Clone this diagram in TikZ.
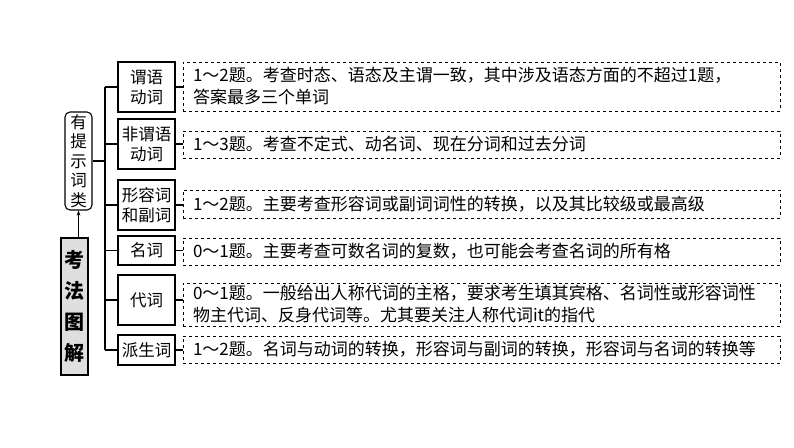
\documentclass[tikz,border=0pt]{standalone}
\usepackage{fontspec}
\setmainfont{Noto Sans CJK SC}
\usetikzlibrary{arrows.meta}
\begin{document}
\begin{tikzpicture}[x=1pt,y=-1pt,
  cat/.style={draw,line width=1.1pt,minimum width=57pt,align=center,font=\fontsize{16.5}{20}\selectfont,inner sep=1pt},
  desc/.style={draw,dashed,line width=0.9pt,minimum width=597pt,align=left,text width=577pt,font=\fontsize{17}{22}\selectfont,inner xsep=10pt,inner ysep=2pt},
  ln/.style={line width=1.1pt}]
\useasboundingbox (0,0) rectangle (794,447);
\node[draw,fill=gray!25,line width=1.1pt,minimum width=27pt,minimum height=137pt,inner sep=0pt,align=center,font=\fontsize{20}{31}\selectfont\bfseries] (kf) at (74.5,306.5) {考\\法\\图\\解};
\node[draw,rounded corners=5pt,line width=1.1pt,minimum width=27pt,minimum height=98pt,inner sep=0pt,align=center,font=\fontsize{16.5}{19.5}\selectfont] (yt) at (78.5,161) {有\\提\\示\\词\\类};
\draw[ln,-{Stealth[length=5pt]}] (kf.north -| yt.south) -- (yt.south);
\coordinate (t0) at (105,87);
\coordinate (t1) at (105,350);
\draw[ln] (t0) -- (t1);
\draw[ln] (yt.east) -- (yt.east -| t0);
\node[cat,minimum height=50pt] (c1) at (146.5,87) {谓语\\动词};
\node[cat,minimum height=50pt] (c2) at (146.5,144) {非谓语\\动词};
\node[cat,minimum height=50pt] (c3) at (146.5,205) {形容词\\和副词};
\node[cat,minimum height=29pt] (c4) at (146.5,250.5) {名词};
\node[cat,minimum height=50pt] (c5) at (146.5,300) {代词};
\node[cat,minimum height=30pt] (c6) at (146.5,350) {派生词};
\node[desc,minimum height=49pt] (d1) at (481.5,86.5) {1～2题。考查时态、语态及主谓一致，其中涉及语态方面的不超过1题，\\答案最多三个单词};
\node[desc,minimum height=27pt] (d2) at (481.5,144.5) {1～3题。考查不定式、动名词、现在分词和过去分词};
\node[desc,minimum height=28pt] (d3) at (481.5,204) {1～2题。主要考查形容词或副词词性的转换，以及其比较级或最高级};
\node[desc,minimum height=27pt] (d4) at (481.5,251.5) {0～1题。主要考查可数名词的复数，也可能会考查名词的所有格};
\node[desc,minimum height=43pt] (d5) at (481.5,304.5) {0～1题。一般给出人称代词的主格，要求考生填其宾格、名词性或形容词性\\物主代词、反身代词等。尤其要关注人称代词it的指代};
\node[desc,minimum height=27pt] (d6) at (481.5,349.5) {1～2题。名词与动词的转换，形容词与副词的转换，形容词与名词的转换等};
\foreach \i in {1,...,6}{
  \draw[ln] (c\i.west -| t0) -- (c\i.west);
  \draw[ln] (c\i.east) -- (c\i.east -| d\i.west);
}
\end{tikzpicture}
\end{document}
